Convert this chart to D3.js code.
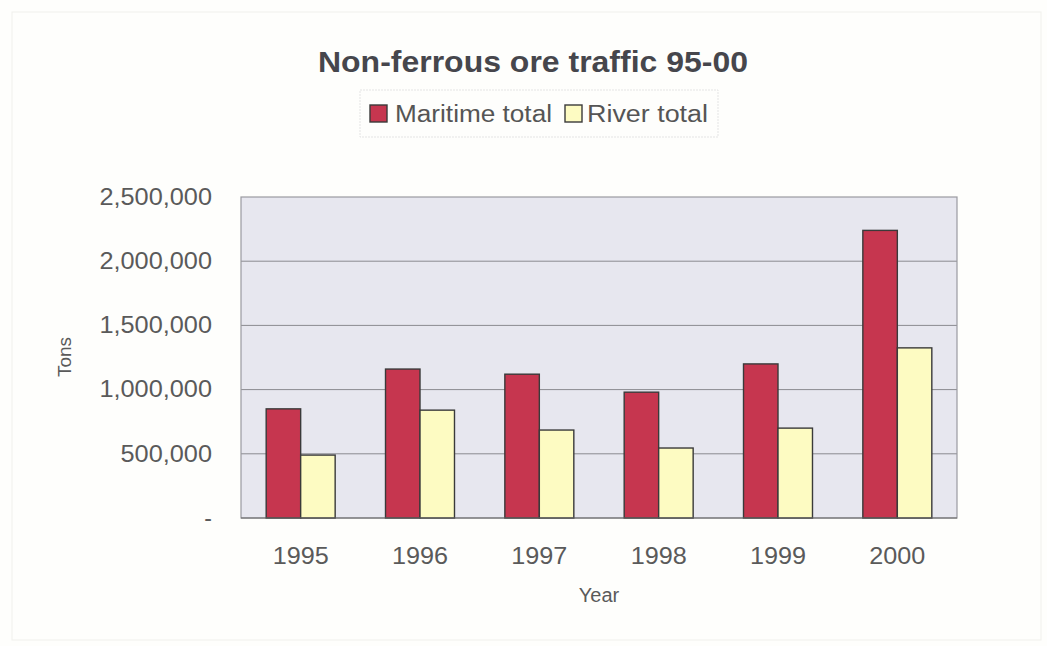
<!DOCTYPE html>
<html>
<head>
<meta charset="utf-8">
<script src="https://cdn.jsdelivr.net/npm/d3@7"></script>
<style>
  html, body { margin: 0; padding: 0; background: #fefefc; }
  svg { display: block; font-family: "Liberation Sans", Arial, sans-serif; }
</style>
</head>
<body>
<svg id="chart" width="1047" height="646"></svg>
<script>
const years = ["1995", "1996", "1997", "1998", "1999", "2000"];
const seriesNames = ["Maritime total", "River total"];
const maritime = [850000, 1160000, 1120000, 980000, 1200000, 2240000];
const river = [490000, 840000, 685000, 545000, 700000, 1325000];
const yTicks = [0, 500000, 1000000, 1500000, 2000000, 2500000];
const colors = ["#c6364f", "#fdfbc2"];

const svg = d3.select("#chart");
const W = 1047, H = 646;
const m = { left: 241, right: 957, top: 197, bottom: 518 };

// faint page frame
svg.append("rect").attr("x", 12).attr("y", 12).attr("width", W - 18).attr("height", H - 18)
  .attr("fill", "#fefefc").attr("stroke", "#f0f0ec").attr("stroke-width", 1);

const x0 = d3.scaleBand().domain(years).range([m.left, m.right]).padding(0);
const x1 = d3.scaleBand().domain(seriesNames).range([0, x0.bandwidth()]).paddingInner(0).paddingOuter(0.73);
const y = d3.scaleLinear().domain([0, 2500000]).range([m.bottom, m.top]);

// plot background
svg.append("rect").attr("x", m.left).attr("y", m.top)
  .attr("width", m.right - m.left).attr("height", m.bottom - m.top)
  .attr("fill", "#e7e7ef");

// gridlines
svg.append("g").selectAll("line").data(yTicks.filter(d => d > 0 && d < 2500000)).join("line")
  .attr("x1", m.left).attr("x2", m.right)
  .attr("y1", d => y(d)).attr("y2", d => y(d))
  .attr("stroke", "#8a8a90").attr("stroke-width", 1);

// plot border
svg.append("rect").attr("x", m.left).attr("y", m.top)
  .attr("width", m.right - m.left).attr("height", m.bottom - m.top)
  .attr("fill", "none").attr("stroke", "#9a9aa0").attr("stroke-width", 1.2);

// bars
const data = years.map((yr, i) => ({ year: yr, values: [maritime[i], river[i]] }));
const groups = svg.append("g").selectAll("g").data(data).join("g")
  .attr("transform", d => `translate(${x0(d.year)},0)`);
groups.selectAll("rect").data(d => d.values.map((v, j) => ({ key: seriesNames[j], v, j }))).join("rect")
  .attr("x", d => x1(d.key))
  .attr("y", d => y(d.v))
  .attr("width", x1.bandwidth())
  .attr("height", d => y(0) - y(d.v))
  .attr("fill", d => colors[d.j])
  .attr("stroke", "#3a3a3a").attr("stroke-width", 1.4);

// axis line bottom
svg.append("line").attr("x1", m.left).attr("x2", m.right).attr("y1", m.bottom).attr("y2", m.bottom)
  .attr("stroke", "#666").attr("stroke-width", 1.2);

// y axis
const yAxis = d3.axisLeft(y).tickValues(yTicks)
  .tickFormat(d => d === 0 ? "-" : d3.format(",")(d)).tickSize(0).tickPadding(29);
const gy = svg.append("g").attr("transform", `translate(${m.left},0)`).call(yAxis);
gy.select(".domain").remove();
gy.selectAll("text").attr("font-size", 23).attr("fill", "#5a5a5a")
  .attr("font-family", "Liberation Sans, Arial, sans-serif")
  .each(function(d) {
    if (d !== 0) {
      const len = this.getComputedTextLength();
      d3.select(this).attr("textLength", len * 1.1).attr("lengthAdjust", "spacingAndGlyphs");
    }
  });

// x axis
const xAxis = d3.axisBottom(x0).tickSize(0).tickPadding(29);
const gx = svg.append("g").attr("transform", `translate(0,${m.bottom})`).call(xAxis);
gx.select(".domain").remove();
gx.selectAll("text").attr("font-size", 24).attr("fill", "#5a5a5a")
  .attr("font-family", "Liberation Sans, Arial, sans-serif")
  .each(function() {
    const len = this.getComputedTextLength();
    d3.select(this).attr("textLength", len * 1.05).attr("lengthAdjust", "spacingAndGlyphs");
  });

// axis titles
svg.append("text").attr("x", 599).attr("y", 602).attr("text-anchor", "middle")
  .attr("font-size", 20).attr("fill", "#5a5a5a").text("Year");
svg.append("text").attr("transform", "translate(71,357) rotate(-90)").attr("text-anchor", "middle")
  .attr("font-size", 19).attr("fill", "#5a5a5a").text("Tons");

// title
svg.append("text").attr("x", 533).attr("y", 72).attr("text-anchor", "middle")
  .attr("font-size", 30).attr("font-weight", "bold").attr("fill", "#46464c")
  .text("Non-ferrous ore traffic 95-00")
  .attr("textLength", 430).attr("lengthAdjust", "spacingAndGlyphs");

// legend
const lg = svg.append("g");
lg.append("rect").attr("x", 360).attr("y", 90).attr("width", 358).attr("height", 47)
  .attr("fill", "#fefefc").attr("stroke", "#e4e4e4").attr("stroke-width", 1).attr("stroke-dasharray", "2,1");
const legendX = [370, 565];
const textX = [395, 587];
const textW = [157, 121];
seriesNames.forEach((name, i) => {
  lg.append("rect").attr("x", legendX[i]).attr("y", 105).attr("width", 17).attr("height", 17)
    .attr("fill", colors[i]).attr("stroke", "#3a3a3a").attr("stroke-width", 1.4);
  lg.append("text").attr("x", textX[i]).attr("y", 122).attr("font-size", 23).attr("fill", "#555")
    .attr("textLength", textW[i]).attr("lengthAdjust", "spacingAndGlyphs")
    .text(name);
});
</script>
</body>
</html>
